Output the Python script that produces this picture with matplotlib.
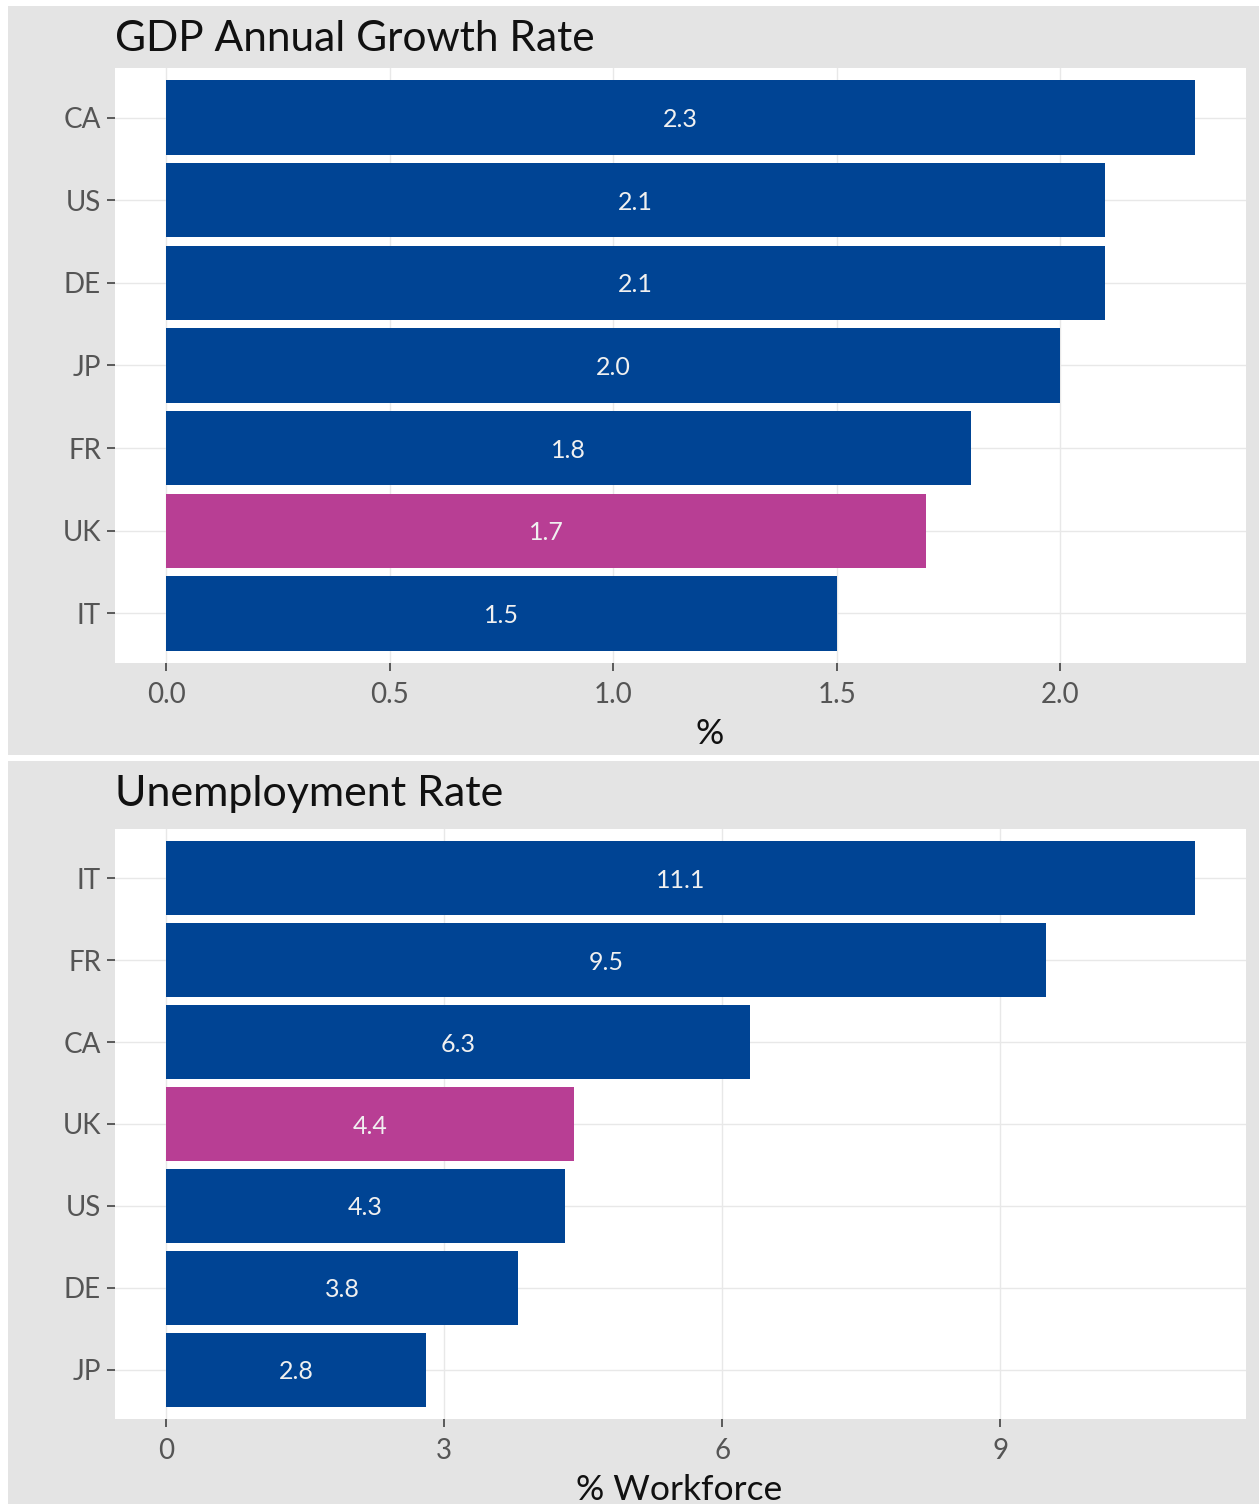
import matplotlib
matplotlib.use("Agg")
import matplotlib.pyplot as plt
from matplotlib.patches import Rectangle

plt.rcParams['font.family'] = ['Lato', 'DejaVu Sans']

# Data
gdp_countries = ["CA", "US", "DE", "JP", "FR", "UK", "IT"]
gdp_values = [2.3, 2.1, 2.1, 2.0, 1.8, 1.7, 1.5]
gdp_ticks = [0.0, 0.5, 1.0, 1.5, 2.0]
gdp_ticklabels = ["0.0", "0.5", "1.0", "1.5", "2.0"]

unemp_countries = ["IT", "FR", "CA", "UK", "US", "DE", "JP"]
unemp_values = [11.1, 9.5, 6.3, 4.4, 4.3, 3.8, 2.8]
unemp_ticks = [0, 3, 6, 9]
unemp_ticklabels = ["0", "3", "6", "9"]

highlight = "UK"
NAVY = "#004494"
MAGENTA = "#b83e94"
PANEL_BG = "#e4e4e4"
GRID = "#e8e8e8"

W, H = 1259, 1504
fig = plt.figure(figsize=(W / 100, H / 100), dpi=100, facecolor="white")

def px_rect(x0, y0, x1, y1):
    return [x0 / W, 1 - y1 / H, (x1 - x0) / W, (y1 - y0) / H]

# Panel backgrounds
for (y0, y1) in [(6, 755), (761, 1510)]:
    r = px_rect(8, y0, 1262, y1)
    fig.patches.append(Rectangle((r[0], r[1]), r[2], r[3], transform=fig.transFigure,
                                 facecolor=PANEL_BG, edgecolor="none", zorder=-10))

def draw(ax_rect, countries, values, ticks, ticklabels, title, title_size, title_base,
         xlabel, xlabel_x, xlabel_base):
    ax = fig.add_axes(px_rect(*ax_rect))
    ax.set_facecolor("white")
    n = len(countries)
    ypos = list(range(n, 0, -1))
    colors = [MAGENTA if c == highlight else NAVY for c in countries]
    ax.barh(ypos, values, height=0.9, color=colors, zorder=2)
    for y, v in zip(ypos, values):
        ax.text(v / 2, y, f"{v:.1f}", ha="center", va="center_baseline", color="#f0f0f0",
                fontsize=18, zorder=3)
    vmax = max(values)
    ax.set_xlim(-0.05 * vmax, 1.05 * vmax)
    ax.set_ylim(0.4, n + 0.6)
    ax.set_yticks(ypos)
    ax.set_yticklabels(countries)
    ax.set_xticks(ticks)
    ax.set_xticklabels(ticklabels)
    for s in ax.spines.values():
        s.set_visible(False)
    ax.grid(True, color=GRID, linewidth=1.0, zorder=0)
    ax.set_axisbelow(True)
    ax.tick_params(axis="both", colors="#333333", labelcolor="#555555", labelsize=20,
                   length=6, width=1.1)
    ax.tick_params(axis="x", pad=8)
    ax.tick_params(axis="y", pad=4)
    fig.text(115 / W, 1 - title_base / H, title, fontsize=title_size, color="#111111",
             ha="left", va="baseline")
    fig.text(xlabel_x / W, 1 - xlabel_base / H, xlabel, fontsize=25.5, color="#111111",
             ha="center", va="baseline")
    return ax

draw((115, 68, 1246, 663), gdp_countries, gdp_values, gdp_ticks, gdp_ticklabels,
     "GDP Annual Growth Rate", 30.5, 51, "%", 710, 744)
draw((115, 829, 1246, 1419), unemp_countries, unemp_values, unemp_ticks, unemp_ticklabels,
     "Unemployment Rate", 31, 806, "% Workforce", 679, 1500)

fig.savefig("out.png", dpi=100, facecolor="white")
